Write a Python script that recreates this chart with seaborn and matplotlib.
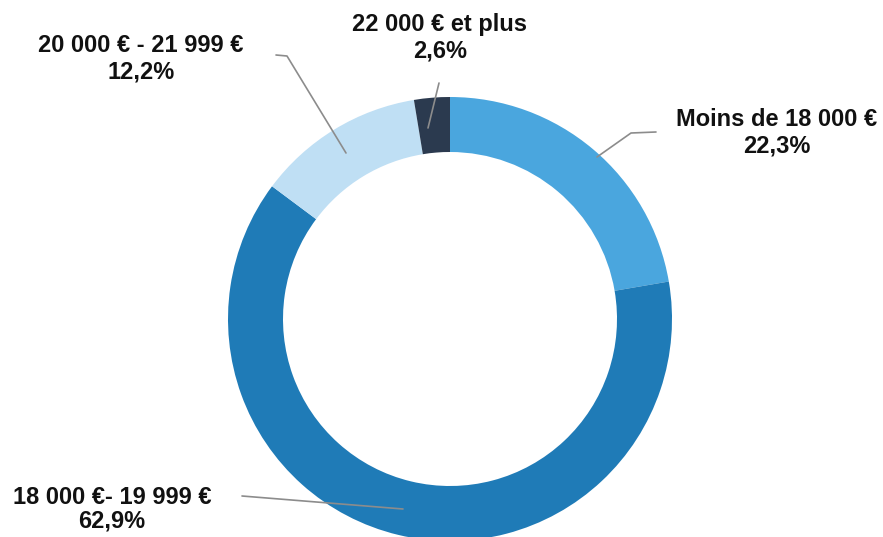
import seaborn as sns
import matplotlib.pyplot as plt

# Données : répartition par tranche de salaire
tranches = ['Moins de 18 000 €', '18 000 €- 19 999 €', '20 000 € - 21 999 €', '22 000 € et plus']
parts = [22.3, 62.9, 12.2, 2.6]
etiquettes_pct = ['22,3%', '62,9%', '12,2%', '2,6%']
couleurs = ['#4AA6DE', '#1F7BB7', '#BFDFF4', '#2B3A4F']

W, H = 883, 537


def py(y):
    # convertit une coordonnée pixel (depuis le haut) en coordonnée données
    return H - y


sns.set_theme(style='white')
plt.rcParams['font.family'] = ['Liberation Sans', 'DejaVu Sans']

fig = plt.figure(figsize=(W / 100, H / 100), dpi=100)
ax = fig.add_axes([0, 0, 1, 1])

ax.pie(parts, colors=couleurs, startangle=90, counterclock=False,
       center=(450, py(319)), radius=222,
       wedgeprops=dict(width=55, linewidth=0))

ax.set_xlim(0, W)
ax.set_ylim(0, H)
ax.set_axis_off()

# Étiquettes et traits de rappel
positions = [
    (777, 133, 1.22, [(656, 132), (631, 133), (597, 157)]),
    (112, 509, 1.05, [(242, 496), (403, 509)]),
    (141, 59, 1.22, [(276, 55), (287, 56), (346, 153)]),
    (440, 38, 1.22, [(439, 83), (428, 128)]),
]
for nom, pct, (tx, ty, interligne, trait) in zip(tranches, etiquettes_pct, positions):
    xs = [p[0] for p in trait]
    ys = [py(p[1]) for p in trait]
    ax.plot(xs, ys, color='#8C8C8C', linewidth=1.2)
    ax.text(tx, py(ty), f'{nom}\n{pct}', ha='center', va='center',
            fontsize=17, fontweight='bold', color='#111111', linespacing=interligne)

plt.savefig('out.png', dpi=100)
plt.close()
